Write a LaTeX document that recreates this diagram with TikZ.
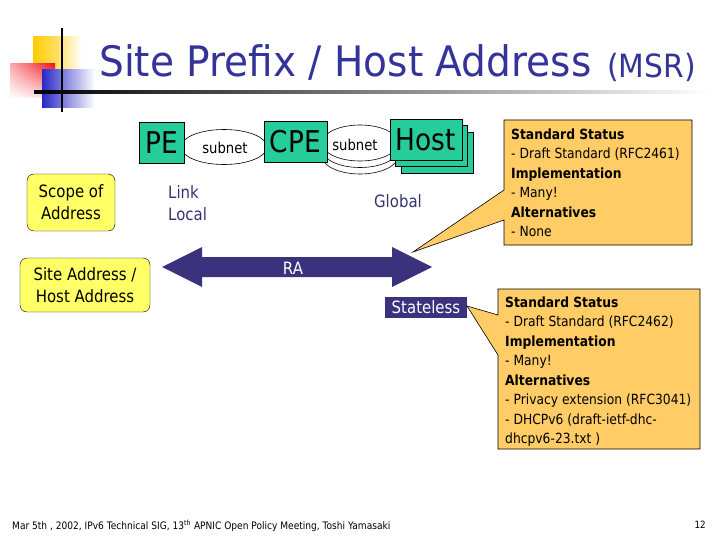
\documentclass[tikz,border=0pt]{standalone}
\usepackage{fontspec}
\setmainfont[FakeStretch=0.88]{DejaVu Sans}
\newfontfamily\titlefont[FakeStretch=0.93]{DejaVu Sans}
\usetikzlibrary{shadings}
\definecolor{navy}{RGB}{51,51,153}
\definecolor{arrownavy}{RGB}{58,50,125}
\definecolor{textnavy}{RGB}{51,51,110}
\definecolor{boxgreen}{RGB}{38,204,153}
\definecolor{lyellow}{RGB}{255,255,102}
\definecolor{calloutc}{RGB}{255,204,102}
\definecolor{logoyellow}{RGB}{255,204,0}
\definecolor{logored}{RGB}{240,20,30}
\definecolor{logoblue}{RGB}{40,40,200}
\tikzset{
  greenbox/.style={draw=black, fill=boxgreen, inner sep=0pt, font=\fontsize{30}{36}\selectfont},
  subnetell/.style={draw=black, fill=white, line width=0.6pt},
  yellowbox/.style={draw=black, fill=lyellow, rounded corners=7pt, inner sep=0pt, align=center, font=\fontsize{17}{22}\selectfont},
  navytext/.style={text=textnavy, inner sep=0pt, font=\fontsize{17}{22}\selectfont},
  calloutbox/.style={draw=black, fill=calloutc, line width=0.6pt},
  callouttext/.style={anchor=north west, inner sep=0pt, align=left, font=\fontsize{14}{19.5}\selectfont},
}
\begin{document}
\begin{tikzpicture}[x=1pt,y=-1pt]
\useasboundingbox (0,0) rectangle (720,540);
% logo
\shade[left color=logoyellow, right color=white, middle color=logoyellow!60] (33,37) rectangle (82,82);
\shade[upper left=logored!35, upper right=logored, lower left=white, lower right=logored!15] (10,64) rectangle (55,98);
\shade[left color=logoblue, right color=white] (42,70) rectangle (95,108);
\draw[line width=2pt] (62,28) -- (62,112);
\shade[left color=black, right color=white] (34,91) rectangle (710,93.5);
% title
\node[anchor=base west, text=navy, inner sep=0pt, font=\titlefont\fontsize{42}{50}\selectfont] (title) at (99,77) {Site Prefix / Host Address};
\node[anchor=base west, text=navy, inner sep=0pt, font=\titlefont\fontsize{32}{38}\selectfont] (msr) at (607,78) {(MSR)};
% subnets
\draw[subnetell] (224,147) ellipse [x radius=43, y radius=17.5];
\draw[subnetell] (360,156) ellipse [x radius=38, y radius=18];
\draw[subnetell] (360,149.5) ellipse [x radius=38, y radius=18];
\draw[subnetell] (360,143) ellipse [x radius=38, y radius=18];
\node[inner sep=0pt, font=\fontsize{15}{18}\selectfont] (sub1) at (225,148) {subnet};
\node[inner sep=0pt, font=\fontsize{15}{18}\selectfont] (sub2) at (355,145) {subnet};
% boxes
\node[greenbox, minimum width=45pt, minimum height=41pt] (pe) at (161.5,143) {PE};
\node[greenbox, minimum width=63pt, minimum height=41pt] (cpe) at (295.5,141.5) {CPE};
\node[greenbox, minimum width=72pt, minimum height=41pt] (host3) at (437,152.5) {};
\node[greenbox, minimum width=72pt, minimum height=41pt] (host2) at (431.5,146) {};
\node[greenbox, minimum width=72pt, minimum height=41pt] (host) at (426,139.5) {Host};
% left boxes
\node[yellowbox, minimum width=88pt, minimum height=57pt] (scope) at (71,202.5) {Scope of\\Address};
\node[yellowbox, minimum width=130pt, minimum height=54pt] (site) at (85,285) {Site Address /\\Host Address};
% scope labels
\node[navytext, anchor=north west, align=left] (link) at (168,185) {Link\\Local};
\node[navytext] (global) at (398,201) {Global};
% arrow
\fill[arrownavy] (162,267) -- (202,247) -- (202,257) -- (392,257) -- (392,247) -- (432,267) -- (392,287) -- (392,277) -- (202,277) -- (202,287) -- cycle;
\node[text=white, inner sep=0pt, font=\fontsize{17}{22}\selectfont] (ra) at (293,268) {RA};
% stateless
\node[fill=arrownavy, text=white, inner sep=0pt, minimum width=82pt, minimum height=21pt, font=\fontsize{17}{22}\selectfont] (stateless) at (426,307.5) {Stateless};
% callout 1
\coordinate (t1) at (413,252);
\draw[calloutbox] (504,120) -- (692,120) -- (692,245) -- (504,245) -- (504,220) -- (t1) -- (504,190) -- cycle;
\node[callouttext] (c1) at (511,125.5) {\strut\textbf{Standard Status}\\- Draft Standard (RFC2461)\\\textbf{Implementation}\\- Many!\\\textbf{Alternatives}\\- None};
% callout 2
\coordinate (t2) at (467,306);
\draw[calloutbox] (498,289) -- (700,289) -- (700,449) -- (498,449) -- (498,355) -- (t2) -- (498,315) -- cycle;
\node[callouttext] (c2) at (505,293.5) {\strut\textbf{Standard Status}\\- Draft Standard (RFC2462)\\\textbf{Implementation}\\- Many!\\\textbf{Alternatives}\\- Privacy extension (RFC3041)\\- DHCPv6 (draft-ietf-dhc-\\dhcpv6-23.txt )};
% footer
\node[anchor=base west, inner sep=0pt, font=\fontsize{10.3}{12}\selectfont] (footer) at (12,529) {Mar 5th , 2002, IPv6 Technical SIG, 13\textsuperscript{th} APNIC Open Policy Meeting, Toshi Yamasaki};
\node[anchor=base east, inner sep=0pt, font=\fontsize{10}{12}\selectfont] (page) at (706,528) {12};
\end{tikzpicture}
\end{document}
